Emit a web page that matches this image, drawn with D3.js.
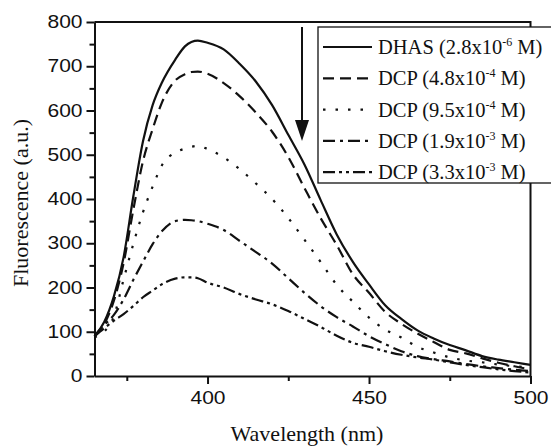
<!doctype html>
<html lang="en">

<head>
    <meta charset="UTF-8" />
    <script src="https://d3js.org/d3.v7.min.js"></script>
    <title>Fluorescence quenching</title>
    <style>
        body { margin: 0; background: #fff; }
    </style>
</head>

<body>
    <div id="chart"></div>
    <script>
        // Wavelength grid (nm)
        const wavelength = [365, 368, 371, 374, 377, 380, 383, 386, 390, 393, 395, 397, 400, 405, 410, 415, 420, 425,
            430, 435, 440, 445, 450, 455, 460, 465, 470, 475, 480, 485, 490, 495, 500]

        // Fluorescence (a.u.)
        const dhas = [90, 122, 180, 268, 405, 530, 612, 665, 715, 745, 755, 758, 753, 738, 705, 665, 612, 545,
            478, 398, 320, 258, 207, 160, 129, 103, 85, 70, 58, 45, 37, 31, 25]
        const dcp48 = [90, 117, 170, 255, 375, 485, 558, 620, 668, 682, 687, 688, 683, 662, 632, 595, 552, 495,
            425, 357, 296, 230, 188, 145, 118, 96, 77, 59, 51, 40, 30, 22, 15]
        const dcp95 = [88, 100, 135, 218, 298, 370, 428, 478, 505, 514, 518, 520, 513, 494, 467, 435, 400, 357,
            308, 258, 206, 168, 132, 105, 87, 66, 53, 42, 35, 31, 26, 22, 19]
        const dcp19 = [90, 115, 138, 173, 217, 258, 298, 328, 350, 353, 352, 350, 344, 330, 305, 280, 254, 221,
            188, 158, 133, 112, 90, 72, 56, 45, 38, 33, 27, 22, 18, 14, 11]
        const dcp33 = [90, 108, 125, 140, 158, 178, 193, 208, 220, 223, 223, 221, 211, 200, 185, 173, 162, 147,
            129, 111, 91, 75, 66, 56, 48, 42, 37, 31, 25, 20, 15, 11, 8]

        const seriesNames = ["DHAS", "DCP", "DCP", "DCP", "DCP"]
        const seriesConc = ["2.8x10", "4.8x10", "9.5x10", "1.9x10", "3.3x10"]
        const seriesExp = ["-6", "-4", "-4", "-3", "-3"]
        const seriesData = [dhas, dcp48, dcp95, dcp19, dcp33]
        const dashes = [null, "11,6", "2.5,10", "12,5,3,5", "12,4,3,4,3,4"]

        const xMajor = [400, 450, 500]
        const xMinor = [375, 425, 475]
        const yMajor = [0, 100, 200, 300, 400, 500, 600, 700, 800]
        const yMinor = [50, 150, 250, 350, 450, 550, 650, 750]

        const W = 551, H = 447
        const margin = { top: 22, right: 20.5, bottom: 71, left: 94.5 }

        const svg = d3.select("#chart").append("svg")
            .attr("width", W)
            .attr("height", H)

        const x = d3.scaleLinear().domain([365, 500]).range([margin.left, W - margin.right])
        const y = d3.scaleLinear().domain([0, 800]).range([H - margin.bottom, margin.top])

        const sans = "'Liberation Sans', Arial, sans-serif"
        const serif = "'Liberation Serif', 'Times New Roman', serif"

        // curves
        const line = d3.line()
            .x(d => x(d[0]))
            .y(d => y(d[1]))
            .curve(d3.curveMonotoneX)

        seriesData.forEach((vals, i) => {
            svg.append("path")
                .datum(wavelength.map((w, j) => [w, vals[j]]))
                .attr("fill", "none")
                .attr("stroke", "#111")
                .attr("stroke-width", 2.2)
                .attr("stroke-dasharray", dashes[i])
                .attr("d", line)
        })

        // frame (top + right)
        svg.append("path")
            .attr("d", `M${x.range()[0]},${y(800)}H${x(500)}V${y(0)}`)
            .attr("fill", "none")
            .attr("stroke", "#111")
            .attr("stroke-width", 2)

        // axes
        const yAxis = svg.append("g")
            .attr("transform", `translate(${margin.left},0)`)
            .call(d3.axisLeft(y).tickValues(yMajor).tickSize(8).tickSizeOuter(0).tickPadding(2))
        svg.append("g")
            .attr("transform", `translate(${margin.left},0)`)
            .call(d3.axisLeft(y).tickValues(yMinor).tickSize(5).tickFormat(""))
            .call(g => g.select(".domain").remove())

        const xAxis = svg.append("g")
            .attr("transform", `translate(0,${y(0)})`)
            .call(d3.axisBottom(x).tickValues(xMajor).tickSize(8).tickSizeOuter(0).tickPadding(8))
        svg.append("g")
            .attr("transform", `translate(0,${y(0)})`)
            .call(d3.axisBottom(x).tickValues(xMinor).tickSize(5).tickFormat(""))
            .call(g => g.select(".domain").remove())

        svg.selectAll(".domain, .tick line")
            .attr("stroke", "#111")
            .attr("stroke-width", 2)

        for (const ax of [yAxis, xAxis]) {
            ax.selectAll("text")
                .attr("transform", "scale(1.2,1)")
                .attr("fill", "#111")
                .style("font-family", sans)
                .style("font-size", "17.5px")
        }

        // axis titles
        svg.append("text")
            .attr("x", 307)
            .attr("y", 441)
            .attr("text-anchor", "middle")
            .style("font-family", serif)
            .style("font-size", "22px")
            .attr("fill", "#111")
            .text("Wavelength (nm)")

        svg.append("text")
            .attr("transform", `translate(28,${(y(0) + y(800)) / 2 + 4}) rotate(-90)`)
            .attr("text-anchor", "middle")
            .style("font-family", serif)
            .style("font-size", "22px")
            .attr("fill", "#111")
            .text("Fluorescence (a.u.)")

        // arrow
        svg.append("line")
            .attr("x1", 302).attr("x2", 302)
            .attr("y1", 27).attr("y2", 124)
            .attr("stroke", "#111")
            .attr("stroke-width", 2)
        svg.append("path")
            .attr("d", "M295,120L309,120L302,141Z")
            .attr("fill", "#111")

        // legend
        const legend = svg.append("g")
        legend.append("rect")
            .attr("x", 318).attr("y", 27)
            .attr("width", 260).attr("height", 156)
            .attr("fill", "#fff")
            .attr("stroke", "#111")
            .attr("stroke-width", 1.3)

        seriesData.forEach((vals, i) => {
            const cy = 47 + i * 31.3
            legend.append("line")
                .attr("x1", 323).attr("x2", 372)
                .attr("y1", cy).attr("y2", cy)
                .attr("stroke", "#111")
                .attr("stroke-width", 2.2)
                .attr("stroke-dasharray", dashes[i])

            const t = legend.append("text")
                .attr("x", 378)
                .attr("y", cy + 7)
                .style("font-family", serif)
                .style("font-size", "20.5px")
                .attr("fill", "#111")
            t.append("tspan").text(`${seriesNames[i]} (${seriesConc[i]}`)
            t.append("tspan").attr("dy", -8).style("font-size", "12px").text(seriesExp[i])
            t.append("tspan").attr("dy", 8).text(" M)")
        })
    </script>
</body>

</html>
